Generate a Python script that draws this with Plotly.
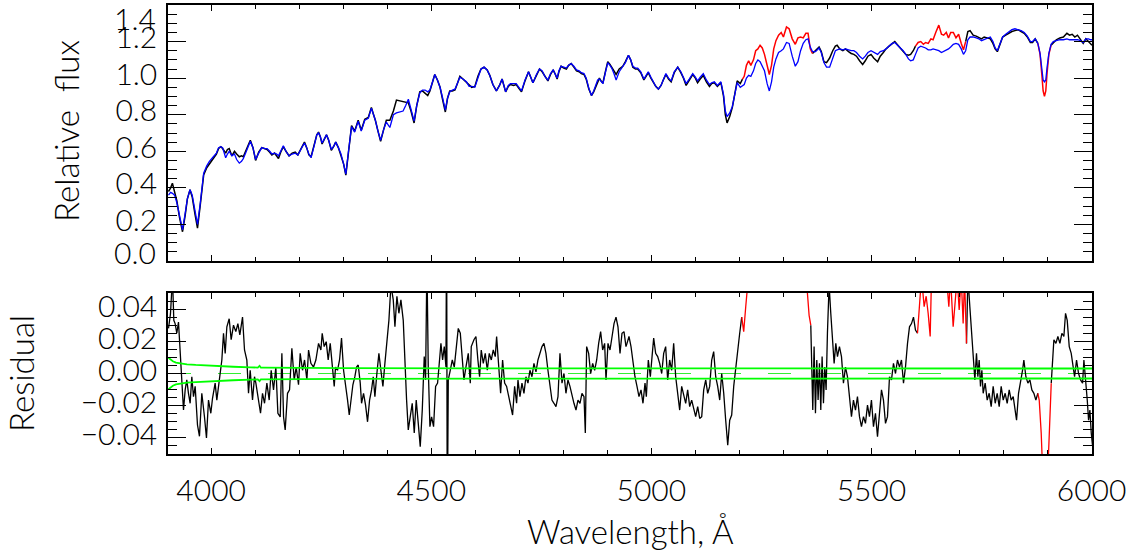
import plotly.graph_objects as go

# ---------------- data ----------------
wl_flux = [3903, 3908, 3912, 3917, 3922, 3928, 3935, 3941, 3946, 3952, 3957, 3963, 3969, 3975, 3983, 3990, 3996,
           4005, 4012, 4017, 4022, 4026, 4033, 4037, 4041, 4047, 4053, 4058, 4064, 4069, 4073, 4080, 4089, 4095,
           4101, 4108, 4115, 4121, 4127, 4133, 4138, 4144, 4149, 4153, 4158, 4164, 4170, 4177, 4184, 4191, 4197,
           4203, 4207, 4212, 4217, 4222, 4227, 4234, 4240, 4244, 4248, 4252, 4257, 4262, 4267, 4273, 4278, 4283,
           4289, 4295, 4301, 4306, 4312, 4319, 4326, 4334, 4341, 4349, 4357, 4364, 4369, 4373, 4379, 4385, 4392,
           4398, 4406, 4414, 4421, 4428, 4436, 4442, 4448, 4454, 4461, 4467, 4474, 4480, 4486, 4492, 4497, 4503,
           4508, 4514, 4520, 4526, 4532, 4537, 4542, 4548, 4554, 4560, 4565, 4572, 4580, 4586, 4592, 4599, 4606,
           4613, 4620, 4627, 4633, 4640, 4648, 4655, 4661, 4665, 4669, 4675, 4680, 4687, 4693, 4699, 4705, 4713,
           4721, 4726, 4731, 4739, 4746, 4752, 4758, 4765, 4771, 4777, 4782, 4786, 4790, 4795, 4801, 4807, 4812,
           4818, 4824, 4830, 4836, 4841, 4847, 4852, 4858, 4864, 4869, 4873, 4878, 4882, 4887, 4890, 4896, 4901,
           4906, 4910, 4915, 4920, 4927, 4935, 4941, 4948, 4953, 4958, 4964, 4969, 4976, 4983, 4988, 4993, 4999,
           5004, 5010, 5016, 5022, 5028, 5033, 5039, 5045, 5052, 5060, 5067, 5073, 5079, 5086, 5094, 5100, 5105,
           5111, 5118, 5125, 5132, 5137, 5143, 5150, 5158, 5164, 5168, 5172, 5178, 5184, 5190, 5195, 5202, 5207,
           5211, 5216, 5221, 5226, 5232, 5237, 5242, 5247, 5252, 5257, 5263, 5268, 5273, 5278, 5283, 5289, 5295,
           5300, 5307, 5313, 5320, 5327, 5333, 5339, 5345, 5351, 5356, 5361, 5366, 5373, 5381, 5386, 5392, 5398,
           5405, 5412, 5418, 5422, 5428, 5435, 5441, 5448, 5454, 5460, 5466, 5473, 5480, 5486, 5492, 5499, 5505,
           5514, 5520, 5527, 5533, 5540, 5547, 5553, 5560, 5566, 5572, 5578, 5584, 5589, 5595, 5600, 5606, 5612,
           5618, 5623, 5629, 5635, 5640, 5646, 5653, 5659, 5664, 5670, 5675, 5680, 5686, 5692, 5698, 5704, 5709,
           5714, 5719, 5724, 5731, 5738, 5744, 5750, 5756, 5763, 5770, 5776, 5781, 5786, 5792, 5798, 5805, 5812,
           5819, 5826, 5833, 5840, 5847, 5854, 5861, 5866, 5872, 5878, 5883, 5887, 5890, 5893, 5896, 5899, 5903,
           5908, 5913, 5920, 5928, 5936, 5944, 5950, 5956, 5962, 5968, 5975, 5981, 5987, 5993, 5998, 6001]

obs_flux = [0.38, 0.40, 0.425, 0.37, 0.33, 0.24, 0.16, 0.25, 0.34, 0.39, 0.35, 0.26, 0.18, 0.30, 0.47, 0.51, 0.53,
            0.56, 0.585, 0.615, 0.625, 0.615, 0.59, 0.61, 0.615, 0.575, 0.60, 0.585, 0.57, 0.575, 0.57, 0.61, 0.66, 0.62,
            0.55, 0.595, 0.62, 0.615, 0.61, 0.595, 0.58, 0.59, 0.575, 0.56, 0.595, 0.625, 0.60, 0.575, 0.59, 0.595, 0.58,
            0.61, 0.63, 0.65, 0.62, 0.58, 0.57, 0.63, 0.69, 0.705, 0.68, 0.64, 0.665, 0.69, 0.66, 0.605, 0.625, 0.65,
            0.62, 0.58, 0.53, 0.47, 0.60, 0.74, 0.71, 0.77, 0.715, 0.775, 0.785, 0.84, 0.80, 0.77, 0.71, 0.655, 0.72,
            0.77, 0.77, 0.82, 0.88, 0.875, 0.87, 0.865, 0.865, 0.82, 0.755, 0.85, 0.925, 0.93, 0.92, 0.905, 0.93, 0.98,
            1.02, 0.99, 0.95, 0.88, 0.815, 0.89, 0.93, 0.93, 0.935, 0.975, 1.01, 0.995, 0.975, 0.96, 0.95, 0.955, 1.01,
            1.05, 1.06, 1.045, 1.015, 0.965, 0.93, 0.96, 0.995, 0.96, 0.925, 0.955, 0.965, 0.96, 0.965, 0.945, 0.925, 0.985,
            1.035, 1.005, 0.975, 1.015, 1.05, 1.035, 1.01, 0.985, 1.02, 1.045, 1.02, 0.995, 1.035, 1.065, 1.055, 1.05, 1.07,
            1.08, 1.06, 1.04, 1.035, 1.025, 1.02, 0.995, 0.94, 0.905, 0.925, 0.95, 0.985, 1.0, 0.98, 0.975, 1.04, 1.09,
            1.075, 1.06, 1.04, 1.02, 1.05, 1.065, 1.09, 1.125, 1.10, 1.06, 1.05, 1.05, 1.03, 0.99, 1.01, 1.03, 1.0,
            0.98, 0.955, 0.94, 0.96, 0.995, 1.02, 0.995, 0.98, 1.03, 1.06, 1.03, 1.0, 0.96, 0.985, 1.02, 1.0, 0.975,
            0.995, 1.015, 0.98, 0.955, 0.97, 0.975, 0.955, 0.975, 0.90, 0.80, 0.755, 0.79, 0.84, 0.92, 0.985, 0.97, 0.995,
            1.01, 1.07, 1.095, 1.07, 1.10, 1.15, 1.16, 1.18, 1.165, 1.13, 1.07, 1.02, 1.07, 1.16, 1.205, 1.235, 1.25,
            1.225, 1.28, 1.27, 1.215, 1.185, 1.22, 1.225, 1.22, 1.245, 1.245, 1.16, 1.135, 1.15, 1.17, 1.145, 1.09, 1.085,
            1.11, 1.15, 1.175, 1.18, 1.16, 1.15, 1.16, 1.145, 1.135, 1.13, 1.12, 1.095, 1.075, 1.095, 1.12, 1.13, 1.11,
            1.09, 1.12, 1.14, 1.16, 1.175, 1.19, 1.20, 1.18, 1.165, 1.15, 1.13, 1.125, 1.13, 1.15, 1.175, 1.195, 1.20,
            1.185, 1.195, 1.19, 1.215, 1.21, 1.25, 1.29, 1.24, 1.235, 1.25, 1.22, 1.25, 1.25, 1.22, 1.24, 1.19, 1.155,
            1.20, 1.255, 1.26, 1.235, 1.23, 1.22, 1.215, 1.225, 1.22, 1.215, 1.19, 1.16, 1.145, 1.19, 1.225, 1.235, 1.245,
            1.255, 1.26, 1.265, 1.255, 1.245, 1.225, 1.195, 1.195, 1.215, 1.19, 1.13, 1.02, 0.93, 0.90, 0.93, 1.03, 1.13,
            1.18, 1.195, 1.21, 1.22, 1.225, 1.245, 1.235, 1.24, 1.225, 1.235, 1.21, 1.19, 1.215, 1.20, 1.185, 1.18]

model_flux = [0.36, 0.375, 0.37, 0.36, 0.32, 0.25, 0.17, 0.26, 0.34, 0.39, 0.36, 0.28, 0.20, 0.31, 0.48, 0.52, 0.545,
              0.57, 0.59, 0.62, 0.625, 0.62, 0.565, 0.585, 0.60, 0.575, 0.585, 0.555, 0.535, 0.545, 0.56, 0.60, 0.655, 0.62,
              0.555, 0.59, 0.62, 0.615, 0.615, 0.60, 0.585, 0.59, 0.585, 0.575, 0.60, 0.63, 0.60, 0.575, 0.585, 0.59, 0.58,
              0.61, 0.625, 0.645, 0.62, 0.585, 0.565, 0.63, 0.69, 0.70, 0.68, 0.645, 0.665, 0.69, 0.66, 0.61, 0.625, 0.65,
              0.62, 0.585, 0.53, 0.475, 0.60, 0.735, 0.705, 0.765, 0.71, 0.77, 0.78, 0.835, 0.80, 0.77, 0.71, 0.66, 0.72,
              0.76, 0.73, 0.80, 0.81, 0.815, 0.82, 0.85, 0.885, 0.83, 0.765, 0.85, 0.92, 0.935, 0.935, 0.925, 0.935, 0.98,
              1.02, 0.99, 0.95, 0.89, 0.825, 0.89, 0.925, 0.935, 0.94, 0.975, 1.005, 0.995, 0.98, 0.955, 0.955, 0.95, 1.005,
              1.05, 1.06, 1.045, 1.015, 0.965, 0.93, 0.96, 0.995, 0.96, 0.925, 0.96, 0.97, 0.97, 0.97, 0.95, 0.93, 0.99,
              1.035, 1.005, 0.975, 1.02, 1.05, 1.04, 1.01, 0.99, 1.025, 1.045, 1.02, 1.0, 1.04, 1.065, 1.06, 1.055, 1.07,
              1.08, 1.065, 1.045, 1.04, 1.03, 1.025, 1.0, 0.945, 0.905, 0.93, 0.955, 0.99, 0.995, 0.975, 0.97, 1.035, 1.085,
              1.07, 1.055, 1.025, 0.99, 1.035, 1.06, 1.085, 1.125, 1.10, 1.065, 1.055, 1.055, 1.035, 0.995, 1.015, 1.035, 1.005,
              0.985, 0.955, 0.94, 0.96, 0.995, 1.025, 1.0, 0.985, 1.035, 1.06, 1.035, 1.005, 0.97, 0.995, 1.025, 1.005, 0.985,
              1.005, 1.025, 0.99, 0.965, 0.975, 0.98, 0.96, 0.98, 0.91, 0.82, 0.79, 0.81, 0.845, 0.915, 0.975, 0.95, 0.96,
              0.965, 1.0, 1.015, 1.01, 1.04, 1.08, 1.10, 1.09, 1.065, 1.04, 0.97, 0.93, 0.98, 1.06, 1.105, 1.14, 1.15,
              1.16, 1.195, 1.19, 1.12, 1.065, 1.09, 1.15, 1.19, 1.21, 1.215, 1.17, 1.145, 1.145, 1.165, 1.14, 1.085, 1.06,
              1.06, 1.11, 1.15, 1.155, 1.16, 1.155, 1.16, 1.155, 1.15, 1.15, 1.14, 1.12, 1.105, 1.12, 1.14, 1.15, 1.14,
              1.13, 1.145, 1.15, 1.16, 1.175, 1.19, 1.195, 1.18, 1.165, 1.15, 1.13, 1.105, 1.095, 1.10, 1.13, 1.165, 1.175,
              1.17, 1.165, 1.155, 1.155, 1.16, 1.155, 1.15, 1.14, 1.145, 1.155, 1.16, 1.17, 1.185, 1.19, 1.185, 1.16, 1.13,
              1.15, 1.21, 1.225, 1.225, 1.22, 1.215, 1.205, 1.21, 1.215, 1.225, 1.20, 1.165, 1.15, 1.19, 1.225, 1.24, 1.255,
              1.265, 1.27, 1.265, 1.26, 1.25, 1.23, 1.20, 1.20, 1.215, 1.19, 1.135, 1.05, 0.99, 0.98, 0.99, 1.06, 1.135,
              1.185, 1.20, 1.205, 1.21, 1.21, 1.215, 1.21, 1.21, 1.21, 1.21, 1.205, 1.195, 1.215, 1.215, 1.21, 1.21]

wl_res = [3903.1, 3907.6, 3912.2, 3915.2, 3918.2, 3922, 3925.8, 3929.6, 3933.4, 3937.2, 3941, 3944.7, 3948.5, 3952.3,
          3956.1, 3959.9, 3963.7, 3969, 3973.5, 3978.8, 3984.9, 3989.4, 3994, 3999.3, 4003.1, 4009.1, 4012.9, 4018.2,
          4024.3, 4028.1, 4031.9, 4035.7, 4041, 4045.5, 4050.8, 4056.1, 4060.7, 4065.2, 4071.3, 4075.8, 4081.1, 4084.9,
          4088.7, 4094, 4098.5, 4101.6, 4107.6, 4112.2, 4116.7, 4121.3, 4126.6, 4131.9, 4136.4, 4141.7, 4147, 4151.6,
          4156.9, 4160.7, 4164.5, 4168.2, 4173.5, 4178.1, 4183.4, 4188.7, 4193.2, 4198.5, 4202.3, 4207.6, 4212.2,
          4217.5, 4221.3, 4226.6, 4232.6, 4237.9, 4244,
          4249.3, 4252.3, 4256.8, 4261.4, 4265.9, 4270.5, 4275, 4279.6, 4282.6, 4287.1, 4291.7, 4296.2, 4300.8, 4305.3,
          4309.9, 4313.7, 4317.4, 4322, 4326.5, 4330.3, 4334.1, 4338.7, 4341.7, 4346.2, 4350.8, 4355.3, 4359.9, 4364.4,
          4368.2, 4372, 4376.5, 4381.1, 4385.6, 4390.2, 4394.7, 4399.3, 4403.8, 4408.4, 4413.7, 4417.5, 4422, 4426.5,
          4431.1, 4436.4, 4440.2, 4444, 4447.8, 4452.3, 4456.8, 4461.4, 4465.9, 4470.5, 4475, 4479.6, 4484.1, 4487.1,
          4490.2, 4493.2, 4497, 4500.8, 4505.3, 4509.9, 4514.4, 4517.5, 4522, 4525.8, 4529.6, 4533.4, 4534.9, 4536.4,
          4538.7, 4543.2, 4547.8, 4552.3, 4556.9, 4561.4, 4566, 4570.5, 4574.3, 4578.8, 4584.1, 4588.7,
          4590.9, 4597, 4601.5, 4606, 4609.8, 4613.6, 4618.2, 4622.7, 4627.3, 4631.8, 4636.4, 4640.9, 4645.4, 4648.5,
          4653, 4657.6, 4662.1, 4666.7, 4671.2, 4675.8, 4680.3, 4684.8, 4689.4, 4693.9, 4697, 4701.5, 4706.1, 4710.6,
          4715.1, 4719.7, 4724.2, 4728.8, 4733.3, 4737.9, 4742.4, 4747, 4751.5, 4756, 4760.6, 4765.1, 4769.7, 4774.2,
          4778.8, 4783.3, 4787.9, 4792.4, 4797, 4801.5, 4806, 4810.6, 4815.1, 4819.7, 4824.2, 4828.8, 4833.3, 4837.9,
          4842.4, 4847, 4850, 4853, 4857.6, 4862.1, 4866.7, 4871.2, 4875.8, 4880.3, 4884.8, 4889.4, 4893.9, 4897,
          4901.5, 4906.1, 4910.6, 4915.2, 4919.7, 4924.2, 4928.8, 4933.3, 4937.9, 4942.4,
          4944.7, 4949.2, 4953.8, 4958.3, 4962.8, 4967.4, 4971.9, 4976.5, 4981, 4985.6, 4988.6, 4993.1, 4997.7, 5002.2,
          5005.3, 5009.8, 5014.4, 5018.9, 5023.5, 5028, 5032.5, 5037.1, 5041.6, 5046.2, 5050.7, 5055.3, 5059.8, 5064.4,
          5068.9, 5073.5, 5078, 5082.5, 5087.1, 5091.6, 5096.2, 5100.7, 5105.3, 5109.8, 5114.4, 5118.9, 5123.5, 5128,
          5132.5, 5137.1, 5141.6, 5146.2, 5150.7, 5155.3, 5159.8, 5164.4, 5168.9, 5173.5, 5178, 5182.5, 5187.1, 5191.6,
          5196.2, 5200.7, 5205.3, 5209.8, 5214.4, 5218.9, 5230, 5260, 5300, 5330, 5345,
          5353.1, 5358.4, 5362.2, 5364.4, 5366.7, 5369.7, 5372.8, 5375.8, 5378.8, 5381.9, 5384.9, 5387.9, 5391, 5394,
          5397, 5400, 5403.8, 5407.6, 5411.4, 5415.2, 5419, 5422.8, 5427.3, 5431.9, 5436.4, 5441, 5445.5, 5450, 5454.6,
          5459.1, 5463.7, 5468.2, 5472.8, 5477.3, 5481.9, 5486.4, 5491, 5495.5, 5500, 5504.6, 5509.1, 5513.7, 5518.2,
          5522.8, 5527.3, 5531.9, 5536.4, 5541, 5545.5, 5550, 5554.6, 5559.1, 5563.7, 5568.2, 5572.8, 5577.3, 5581.9,
          5586.4, 5591, 5595.5, 5600, 5604.6, 5608.4, 5613.7, 5619.7, 5624.3, 5628.8, 5633.4, 5636.4,
          5640, 5650, 5660, 5670.5, 5675.8, 5679.6, 5685.6, 5690.2, 5694.7, 5699.3, 5703.8, 5708.3, 5711.4, 5715.9,
          5719, 5723.5, 5728, 5732.6, 5734.9, 5738.6, 5741.7, 5744.7, 5747.7, 5750.8, 5753.8, 5758.3, 5762.9, 5767.4,
          5772, 5776.5, 5781.1, 5785.6, 5790.2, 5794.7, 5799.3, 5803.8, 5808.3, 5812.9, 5817.4, 5822, 5826.5, 5829.6,
          5834.1, 5838.6, 5843.2, 5846.2, 5850.8, 5855.3, 5859.9, 5864.4, 5869, 5873.5, 5878, 5881.1, 5885.6, 5888.6,
          5893, 5900.8, 5903.8, 5906, 5908.4, 5911.4, 5914.4, 5919, 5923.5, 5928.1, 5932.6, 5937.1, 5940.9, 5944.7,
          5949.3, 5953.8, 5958.4, 5961.4, 5965.9, 5970.5, 5975, 5979.6, 5982.6, 5985.6, 5987.2, 5990.2, 5993.2, 5996.2,
          5999.3, 6002.3]

res = [0.028, 0.037, 0.06, 0.033, 0.031, 0.025, 0.032, 0.0125, -0.006, -0.0227, -0.0102, -0.004, -0.0123, -0.0185,
       -0.002, -0.0144, -0.008, -0.032, -0.039, -0.0123, -0.027, -0.040, -0.0165, -0.0247, -0.0154, -0.006, -0.0165, -0.004,
       0.0084, 0.025, 0.0125, 0.029, 0.034, 0.021, 0.030, 0.026, 0.031, 0.024, 0.035, 0.0146, 0.0084, -0.0123,
       0.002, -0.0165, -0.002, -0.006, -0.0185, -0.0247, -0.0123, -0.0185, -0.006, -0.0165, 0.002, -0.0102, 0.004, -0.0247,
       -0.027, 0.0125, -0.027, -0.035, -0.0123, -0.0102, 0.0156, -0.004, 0.004, -0.007, 0.0125, 0.002, 0.0084,
       -0.004, 0.0146, 0.0063, 0.004, 0.0084, 0.0187,
       0.0146, 0.025, 0.0167, 0.0198, 0.0084, 0.0187, 0.004, -0.008, 0.004, 0.002, 0.0084, 0.022, 0.002, -0.006,
       -0.0165, -0.0258, -0.0165, -0.007, -0.002, 0.004, 0.0053, -0.006, -0.0185, -0.0123, -0.0196, -0.030, -0.0165, -0.0102,
       -0.002, -0.0144, 0.0, 0.0125, 0.002, -0.008, 0.0063, 0.0187, 0.033, 0.055, 0.0457, 0.029, 0.048, 0.0374,
       0.0457, 0.033, 0.004, -0.0165, -0.035, -0.027, -0.0185, -0.037, -0.0165, -0.031, -0.0454, -0.0227, 0.0105, -0.004,
       0.07, 0.004, -0.033, -0.027, -0.033, -0.008, -0.006, 0.004, 0.0187, 0.0084, 0.0167, 0.004, 0.1, -0.1,
       -0.004, 0.002, 0.0084, 0.004, 0.0167, 0.028, 0.025, 0.0105, -0.004, 0.004, 0.0125, -0.006,
       0.0167, 0.021, 0.023, 0.0084, -0.002, 0.0146, 0.0063, 0.0125, 0.002, 0.0125, 0.0084, 0.0146, 0.0105, 0.023,
       0.004, -0.0123, 0.0084, -0.006, -0.008, -0.0144, -0.0185, -0.0258, -0.008, -0.0185, -0.004, -0.0144, -0.006, -0.0123,
       -0.002, -0.006, 0.002, -0.002, 0.0063, 0.001, 0.0084, 0.0125, 0.0167, 0.0187, 0.0125, 0.002, -0.008, -0.0165,
       -0.0185, -0.0206, -0.0144, 0.0125, -0.006, 0.0, -0.0123, -0.004, -0.008, -0.0144, -0.0185, -0.0227, -0.0165, -0.0185,
       -0.0123, -0.0144, -0.037, 0.0167, 0.0125, 0.0, 0.0063, 0.002, 0.0084, 0.0187, 0.026, 0.0146, 0.0187, -0.004,
       0.0187, 0.0146, 0.023, 0.031, 0.035, 0.029, 0.0125, 0.025, 0.026, 0.0167,
       0.0187, 0.023, 0.0167, 0.0073, -0.002, -0.008, -0.0144, -0.0102, -0.0185, -0.006, -0.0144, 0.0084, -0.002, 0.0125,
       0.022, 0.0125, 0.0105, 0.0063, 0.0, 0.0125, 0.0167, -0.004, 0.0084, 0.002, 0.0187, -0.002, -0.0123, -0.0227,
       -0.008, -0.0144, -0.0185, -0.0102, -0.0206, -0.0165, -0.0227, -0.0268, -0.0206, -0.0279, -0.0268, -0.0102, -0.004, -0.0123,
       -0.008, 0.0084, 0.0136, -0.002, -0.008, -0.0165, 0.0, -0.0123, -0.029, -0.0445, -0.029, -0.0258, -0.008, 0.004,
       0.0167, 0.025, 0.035, 0.026, 0.0415, 0.06, 0.09, 0.10, 0.12, 0.10, 0.08,
       0.055, 0.036, 0.030, 0.004, -0.0227, 0.0167, -0.0247, 0.0084, -0.0165, 0.0063, -0.0227, 0.0105, -0.0185, 0.004,
       -0.0102, 0.025, 0.055, 0.0374, 0.021, 0.0063, 0.0187, 0.0105, 0.0167, 0.0105, -0.006, 0.004, -0.002, -0.0165, -0.0268,
       -0.0165, -0.0227, -0.0144, -0.0268, -0.033, -0.0268, -0.031, -0.0196, -0.0268, -0.0165, -0.033, -0.0247, -0.0392, -0.0247,
       -0.0102, -0.0165, -0.031, -0.0268, -0.002, -0.004, 0.0063, 0.0, 0.0084, 0.004, 0.0084, -0.006, 0.004, 0.0187,
       0.029, 0.031, 0.035, 0.027, 0.025, 0.0395, 0.06, 0.0415, 0.048, 0.0374, 0.023, 0.06,
       0.07, 0.08, 0.07, 0.06, 0.0415, 0.06, 0.029, 0.046, 0.06, 0.0395, 0.06, 0.031, 0.06, 0.0187,
       0.06, 0.0415, 0.023, 0.0063, -0.004, 0.0125, -0.002, 0.0084, -0.008, 0.002, -0.0123, -0.006, -0.0165, -0.0123,
       -0.0206, -0.008, -0.0185, -0.0123, -0.0206, -0.008, -0.0165, -0.0123, -0.0185, -0.0102, -0.0165, -0.0144, -0.0227, -0.029,
       -0.0123, -0.006, 0.002, 0.0084, -0.002, -0.006, -0.004, -0.0102, -0.0123, -0.0165, -0.0123, -0.0165, -0.037, -0.06,
       -0.09, -0.06, -0.037, -0.0268, -0.006, 0.0125, 0.021, 0.0187, 0.023, 0.0187, 0.025, 0.023, 0.0374, 0.033,
       0.0167, 0.0125, 0.004, -0.002, 0.0084, 0.0, -0.004, -0.006, 0.0084, 0.0, -0.006, -0.0165, -0.029, -0.0227,
       -0.037, -0.045]

# masked (excluded) wavelength intervals, drawn in red
mask_lo = [5209, 5606, 5880]
mask_hi = [5361, 5712, 5907]

# noise level (green band)
wl_err = [3903, 3908, 3913, 3920, 3930, 3945, 3965, 3990, 4015, 4050, 4090, 4106, 4110, 4113, 4118, 4150, 4200,
          4300, 4600, 5000, 5500, 6001]
err = [0.0098, 0.0085, 0.0076, 0.0068, 0.0062, 0.0057, 0.0053, 0.0049, 0.0046, 0.0042, 0.0038, 0.0037, 0.0047,
       0.0036, 0.0036, 0.0035, 0.0034, 0.0033, 0.0032, 0.0032, 0.0031, 0.0031]

x_range = [3902, 6001]
x_ticks = [4000, 4500, 5000, 5500, 6000]
flux_ticks = [0.0, 0.2, 0.4, 0.6, 0.8, 1.0, 1.2, 1.4]
res_ticks = [-0.04, -0.02, 0.0, 0.02, 0.04]


# ---------------- helpers ----------------
def in_mask(w):
    return any(lo <= w <= hi for lo, hi in zip(mask_lo, mask_hi))


def split(xs, ys):
    m = [in_mask(w) for w in xs]
    black = [y if not m[i] else None for i, y in enumerate(ys)]
    red = []
    for i, y in enumerate(ys):
        near = m[i] or (i > 0 and m[i - 1]) or (i < len(ys) - 1 and m[i + 1])
        red.append(y if near else None)
    return black, red


FONT = "Lato, DejaVu Sans, sans-serif"
FW = 300

obs_black, obs_red = split(wl_flux, obs_flux)
res_black, res_red = split(wl_res, res)

fig = go.Figure()
# top panel
fig.add_trace(go.Scatter(x=wl_flux, y=obs_black, mode="lines", line=dict(color="black", width=1.5),
                         connectgaps=False, xaxis="x", yaxis="y", showlegend=False))
fig.add_trace(go.Scatter(x=wl_flux, y=obs_red, mode="lines", line=dict(color="#ff0000", width=1.5),
                         connectgaps=False, xaxis="x", yaxis="y", showlegend=False))
fig.add_trace(go.Scatter(x=wl_flux, y=model_flux, mode="lines", line=dict(color="#0000ff", width=1.3),
                         xaxis="x", yaxis="y", showlegend=False))
# bottom panel
fig.add_trace(go.Scatter(x=x_range, y=[0, 0], mode="lines",
                         line=dict(color="#33ee33", width=1, dash="23px,27px"),
                         xaxis="x2", yaxis="y2", showlegend=False))
fig.add_trace(go.Scatter(x=wl_res, y=res_black, mode="lines", line=dict(color="black", width=1.3),
                         connectgaps=False, xaxis="x2", yaxis="y2", showlegend=False))
fig.add_trace(go.Scatter(x=wl_res, y=res_red, mode="lines", line=dict(color="#ff0000", width=1.3),
                         connectgaps=False, xaxis="x2", yaxis="y2", showlegend=False))
fig.add_trace(go.Scatter(x=wl_err, y=err, mode="lines", line=dict(color="#00ff00", width=1.8),
                         xaxis="x2", yaxis="y2", showlegend=False))
fig.add_trace(go.Scatter(x=wl_err, y=[-e for e in err], mode="lines", line=dict(color="#00ff00", width=1.8),
                         xaxis="x2", yaxis="y2", showlegend=False))

W, H = 1143, 553
xdom = [168 / W, 1092 / W]
TF = dict(family=FONT, size=30, color="black", weight=FW)
TT = dict(family=FONT, size=33, color="black", weight=FW)

common_x = dict(range=x_range, domain=xdom, tickmode="array", tickvals=x_ticks, automargin=False,
                ticks="inside", ticklen=6, tickwidth=1.2, tickcolor="black",
                minor=dict(tickmode="linear", tick0=4000, dtick=100, ticks="inside", ticklen=4,
                           tickwidth=1.2, tickcolor="black"),
                showline=True, linecolor="black", linewidth=1.5, mirror="ticks",
                showgrid=False, zeroline=False)

fig.update_layout(
    width=W, height=H, autosize=False,
    margin=dict(l=0, r=0, t=0, b=0, autoexpand=False),
    paper_bgcolor="white", plot_bgcolor="white",
    font=TF,
    xaxis=dict(**common_x, anchor="y", showticklabels=False),
    xaxis2=dict(**common_x, anchor="y2", showticklabels=True,
                tickfont=TF, ticklabelstandoff=9),
    yaxis=dict(domain=[1 - 261 / H, 1 - 5 / H], range=[0, 1.4], anchor="x", automargin=False,
               tickmode="array", tickvals=flux_ticks,
               ticktext=["" if v in (0.0, 1.4) else f"{v:.1f}" for v in flux_ticks],
               ticks="inside", ticklen=18, tickwidth=1.3, tickcolor="black",
               minor=dict(tickmode="linear", tick0=0, dtick=0.05, ticks="inside", ticklen=9,
                          tickwidth=1.2, tickcolor="black"),
               tickfont=TF, ticklabelstandoff=3, ticklabelshift=-4,
               showline=True, linecolor="black", linewidth=1.5, mirror="ticks",
               showgrid=False, zeroline=False),
    yaxis2=dict(domain=[1 - 454 / H, 1 - 293 / H], range=[-0.05, 0.05], anchor="x2", automargin=False,
                tickmode="array", tickvals=res_ticks,
                ticktext=[f"{v:.2f}".replace("-", "\u2212") for v in res_ticks],
                ticks="inside", ticklen=18, tickwidth=1.3, tickcolor="black",
                minor=dict(tickmode="linear", tick0=0, dtick=0.005, ticks="inside", ticklen=9,
                           tickwidth=1.2, tickcolor="black"),
                tickfont=TF, ticklabelstandoff=3, ticklabelshift=-3,
                showline=True, linecolor="black", linewidth=1.5, mirror="ticks",
                showgrid=False, zeroline=False),
)

ann = []
# edge tick labels of the flux axis, nudged inside like the original
ann.append(dict(text="1.4", x=158 / W, xref="paper", xanchor="right", y=1.4, yref="y",
                yanchor="middle", yshift=-13, showarrow=False, font=TF))
ann.append(dict(text="0.0", x=158 / W, xref="paper", xanchor="right", y=0.0, yref="y",
                yanchor="middle", yshift=9, showarrow=False, font=TF))
# axis titles
ann.append(dict(text="Relative  flux", x=66 / W, y=1 - 131 / H, xref="paper", yref="paper",
                textangle=-90, showarrow=False, xanchor="center", yanchor="middle", font=TT))
ann.append(dict(text="Residual", x=21 / W, y=1 - 374 / H, xref="paper", yref="paper",
                textangle=-90, showarrow=False, xanchor="center", yanchor="middle", font=TT))
ann.append(dict(text="Wavelength, Å", x=630 / W, y=1 - 531 / H, xref="paper", yref="paper",
                showarrow=False, xanchor="center", yanchor="middle", font=TT))
fig.update_layout(annotations=ann)

fig.write_html("out.html")
